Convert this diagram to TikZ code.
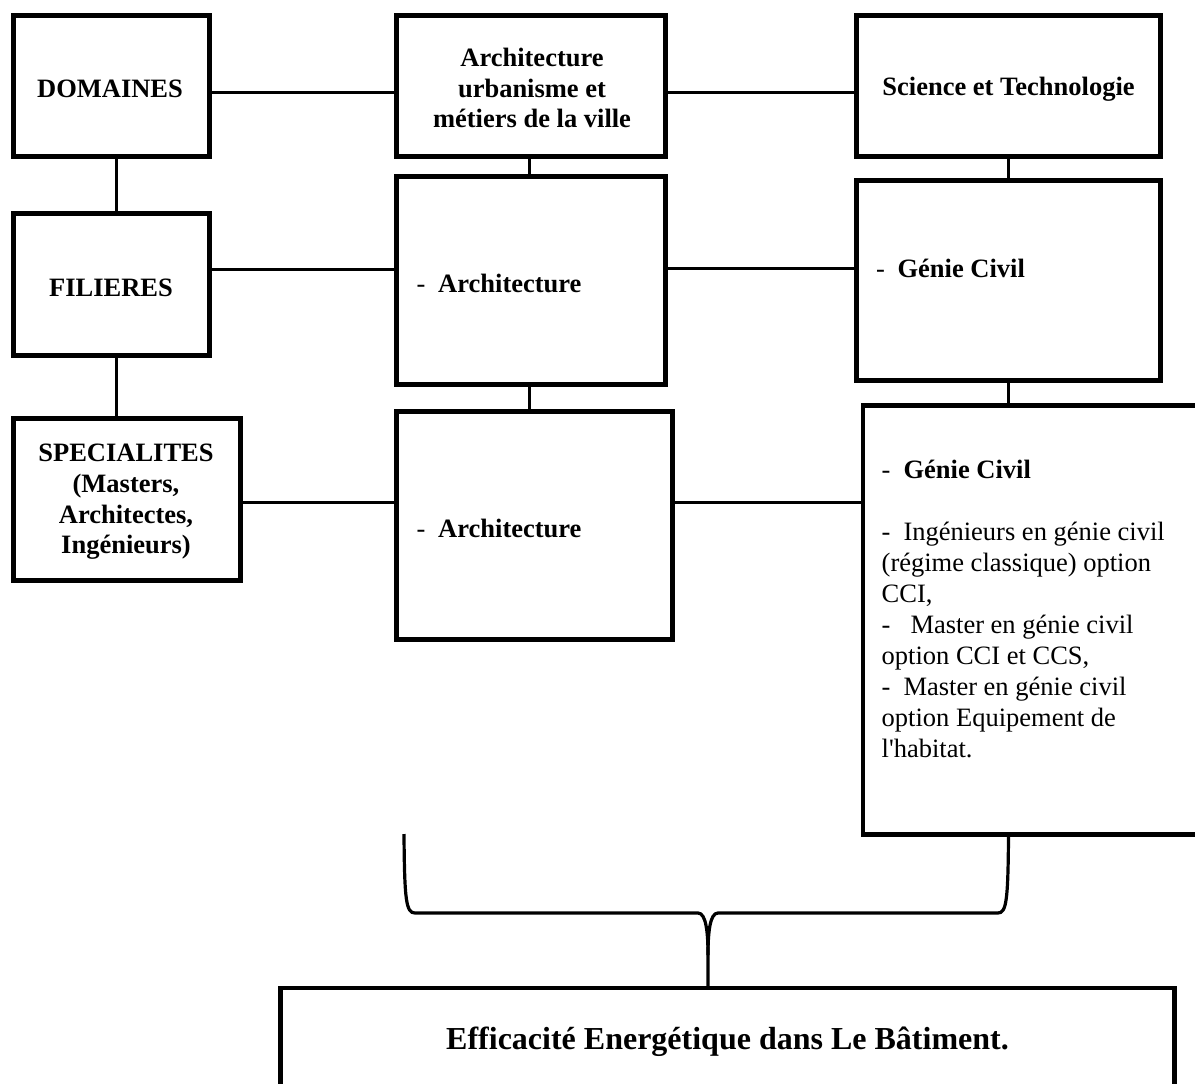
\documentclass[tikz,border=0pt]{standalone}
\usepackage{fontspec}
\newfontfamily\tnr{Liberation Serif}
\begin{document}
\begin{tikzpicture}[x=1pt,y=-1pt,
  box/.style={draw, line width=4.7pt, rectangle, inner sep=0pt},
  conn/.style={line width=3pt},
  txt/.style={font=\tnr\fontsize{26.5}{30.9}\selectfont, inner sep=0pt},
  btxt/.style={font=\tnr\bfseries\fontsize{26.5}{30.7}\selectfont, inner sep=0pt},
  bigtxt/.style={font=\tnr\bfseries\fontsize{32}{38}\selectfont, inner sep=0pt}
]
\fill[white] (0,0) rectangle (1195,1084);
\useasboundingbox (0,0) rectangle (1195,1084);

% boxes
\node[box, minimum width=196pt, minimum height=141pt] (dom)   at (111.5,86) {};
\node[box, minimum width=269pt, minimum height=141pt] (arch1) at (531,86) {};
\node[box, minimum width=304pt, minimum height=141pt] (sci)   at (1008.5,86) {};
\node[box, minimum width=196pt, minimum height=142pt] (fil)   at (111.5,284.5) {};
\node[box, minimum width=269pt, minimum height=208pt] (arch2) at (531,280.5) {};
\node[box, minimum width=304pt, minimum height=200pt] (gc1)   at (1008.5,280.5) {};
\node[box, minimum width=227pt, minimum height=162pt] (spec)  at (127,499.5) {};
\node[box, minimum width=276pt, minimum height=228pt] (arch3) at (534.5,525.5) {};
\node[box, minimum width=340pt, minimum height=429pt] (gc2)   at (1033,620) {};
\node[box, minimum width=894pt, minimum height=120pt] (bot)   at (727.5,1048) {};

% texts
\node[btxt] (tdom) at (110,89) {DOMAINES};
\node[btxt, align=center] (tarch1) at (532,88) {Architecture\\urbanisme et\\métiers de la ville};
\node[btxt] (tsci) at (1008.5,89) {Science et Technologie};
\node[btxt] (tfil) at (111,288) {FILIERES};
\node[txt, anchor=west] (tarch2) at (416.5,283) {-\kern12.7pt\textbf{Architecture}};
\node[txt, anchor=west] (tgc1) at (876,268) {-\kern12.5pt\textbf{Génie Civil}};
\node[btxt, align=center] (tspec) at (126,502) {SPECIALITES\\(Masters,\\Architectes,\\Ingénieurs)};
\node[txt, anchor=west] (tarch3) at (416.5,528) {-\kern12.7pt\textbf{Architecture}};
\node[txt, align=left, anchor=west] (tgc2) at (881.5,609) {-\kern13pt\textbf{Génie Civil}\\[30.9pt]
-\kern13pt Ingénieurs en génie civil\\
(régime classique) option\\
CCI,\\
-\kern20pt Master en génie civil\\
option CCI et CCS,\\
-\kern13pt Master en génie civil\\
option Equipement de\\
l'habitat.};
\node[bigtxt] (tbot) at (727.5,1042) {Efficacité Energétique dans Le Bâtiment.};

% connectors
\draw[conn] ([yshift=-6pt]dom.east) -- ([yshift=-6pt]dom.east -| arch1.west);
\draw[conn] ([yshift=-6pt]arch1.east) -- ([yshift=-6pt]arch1.east -| sci.west);
\draw[conn] ([xshift=4.5pt]dom.south) -- ([xshift=4.5pt]dom.south |- fil.north);
\draw[conn] ([xshift=4.5pt]fil.south) -- ([xshift=4.5pt]fil.south |- spec.north);
\draw[conn] ([xshift=-2pt]arch1.south) -- ([xshift=-2pt]arch1.south |- arch2.north);
\draw[conn] ([xshift=-2pt]arch2.south) -- ([xshift=-2pt]arch2.south |- arch3.north);
\draw[conn] (sci.south) -- (sci.south |- gc1.north);
\draw[conn] (gc1.south) -- (gc1.south |- gc2.north);
\draw[conn] ([yshift=15.5pt]fil.east) -- ([yshift=15.5pt]fil.east -| arch2.west);
\draw[conn] ([yshift=12.5pt]arch2.east) -- ([yshift=12.5pt]arch2.east -| gc1.west);
\draw[conn] ([yshift=-2.5pt]spec.east) -- ([yshift=-2.5pt]spec.east -| arch3.west);
\draw[conn] ([yshift=23.5pt]arch3.east) -- ([yshift=23.5pt]arch3.east -| gc2.west);

% brace
\coordinate (bl) at (404,834);
\coordinate (br) at (gc1.south |- gc2.south);
\coordinate (tip) at (708,988);
\draw[conn, line width=3.2pt]
  (bl) .. controls (404.5,900) and (406,913) .. (415,913) -- (698,913)
       .. controls (706,913) and (708,932) .. (708,955) -- (tip);
\draw[conn, line width=3.2pt]
  (br) .. controls (1008,900) and (1006.5,913) .. (998,913) -- (718,913)
       .. controls (710,913) and (708,932) .. (708,955);
\end{tikzpicture}
\end{document}
